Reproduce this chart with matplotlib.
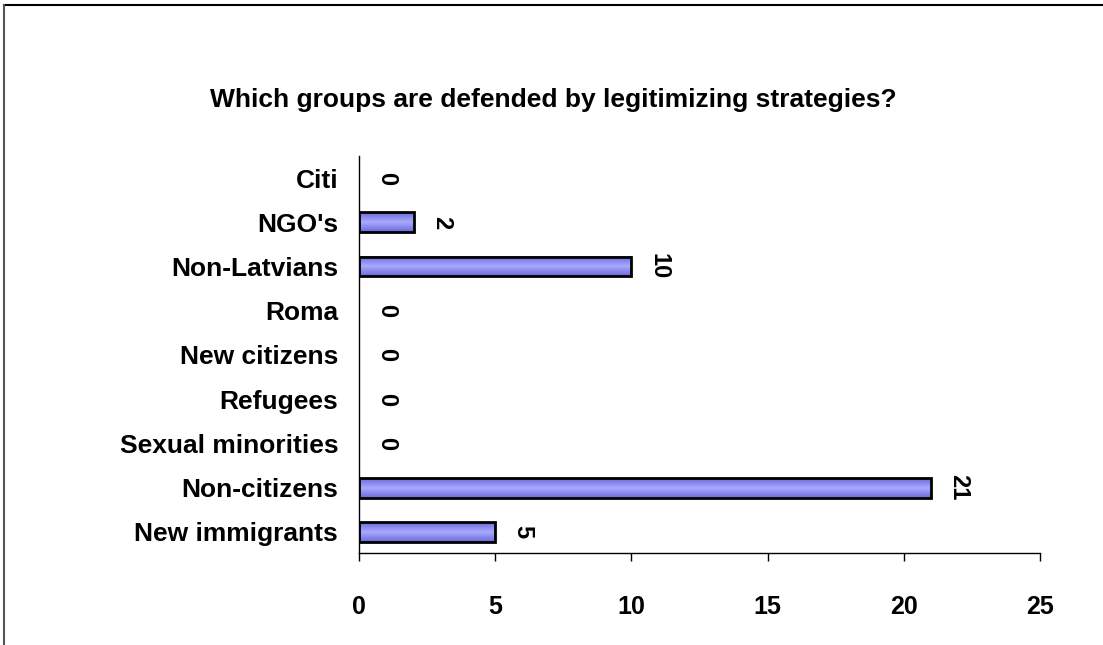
import numpy as np
import matplotlib
import matplotlib.pyplot as plt
from matplotlib.lines import Line2D

matplotlib.use('Agg')
plt.rcParams['font.family'] = ['Liberation Sans', 'DejaVu Sans']
plt.rcParams['font.weight'] = 'bold'

groups = ['New immigrants', 'Non-citizens', 'Sexual minorities', 'Refugees',
          'New citizens', 'Roma', 'Non-Latvians', "NGO's", 'Citi']
counts = [5, 21, 0, 0, 0, 0, 10, 2, 0]
x_ticks = [0, 5, 10, 15, 20, 25]
title = 'Which groups are defended by legitimizing strategies?'

fig = plt.figure(figsize=(11.03, 6.45), dpi=100)
ax = fig.add_axes([0.3255, 0.1426, 0.6174, 0.6155])

y = np.arange(len(groups))
bars = ax.barh(y, counts, height=0.45, color='#8c8cf4', edgecolor='black', linewidth=2, zorder=2)

# gradient fill on each bar (darker at top/bottom edge, light in the middle)
grad = np.concatenate([np.linspace(0, 1, 50), np.linspace(1, 0, 50)]).reshape(-1, 1)
cmap = matplotlib.colors.LinearSegmentedColormap.from_list('g', ['#6a6ad8', '#a8a8ff'])
for b in bars:
    if b.get_width() <= 0:
        b.set_linewidth(0)
        continue
    x0, y0 = b.get_x(), b.get_y()
    ax.imshow(grad, cmap=cmap, aspect='auto', extent=(x0, x0 + b.get_width(), y0, y0 + b.get_height()),
              zorder=2.5, interpolation='bilinear')
    b.set_facecolor('none')
    b.set_zorder(3)

for yi, v in zip(y, counts):
    ax.annotate(str(v), (v, yi), xytext=(20, 0), textcoords='offset points',
                rotation=-90, ha='center', va='center', fontsize=17, fontweight='bold')

ax.set_xlim(0, 25)
ax.set_ylim(-0.48, 8.5)
ax.set_xticks(x_ticks)
ax.set_yticks(y)
ax.set_yticklabels(groups)
ax.tick_params(axis='y', length=0, pad=15, labelsize=19)
ax.tick_params(axis='x', direction='out', length=6, width=1, pad=24, labelsize=18)
ax.spines['top'].set_visible(False)
ax.spines['right'].set_visible(False)
ax.spines['left'].set_linewidth(1)
ax.spines['bottom'].set_linewidth(1)

fig.text(0.5015, 0.845, title, ha='center', va='center', fontsize=19, fontweight='bold')

# chart frame (top and left edges visible)
fig.add_artist(Line2D([4 / 1103, 1], [1 - 5 / 645, 1 - 5 / 645], color='black', lw=1.5))
fig.add_artist(Line2D([4 / 1103, 4 / 1103], [0, 1 - 5 / 645], color='#555555', lw=1.5))

fig.savefig('out.png', dpi=100)
